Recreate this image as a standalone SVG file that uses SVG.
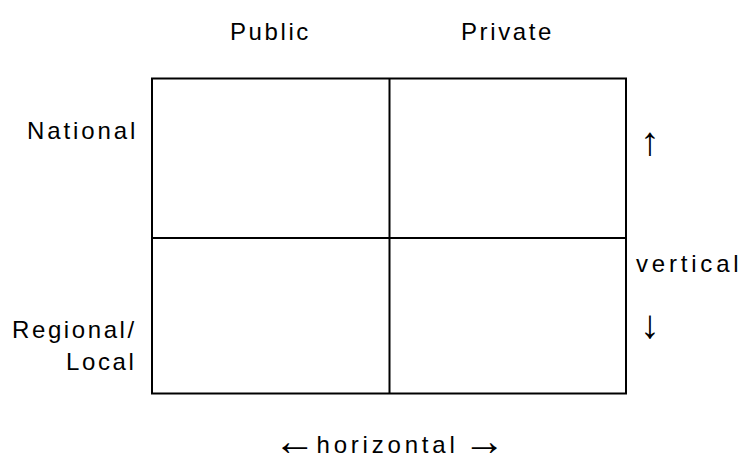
<svg xmlns="http://www.w3.org/2000/svg" width="747" height="457" viewBox="0 0 747 457">
<style>
.t{font-family:"Liberation Sans",Arial,sans-serif;font-size:24px;fill:#000;letter-spacing:2.6px}
.a{font-family:"Liberation Sans",Arial,sans-serif;font-size:24px;fill:#000;letter-spacing:3.8px}
.ar{font-family:"Liberation Sans",Arial,sans-serif;font-size:40px;fill:#000}
.g{fill:none;stroke:#000;stroke-width:2}
</style>
<rect width="747" height="457" fill="#fff"/>
<g id="grid">
<rect class="g" x="152" y="78.5" width="474" height="315"/>
<line class="g" x1="389.5" y1="78.5" x2="389.5" y2="393.5"/>
<line class="g" x1="152" y1="238" x2="626" y2="238"/>
</g>
<g id="col-public"><text class="t" x="230" y="40">Public</text></g>
<g id="col-private"><text class="t" x="461" y="40">Private</text></g>
<g id="row-national"><text class="t" x="27" y="139" style="letter-spacing:2.9px">National</text></g>
<g id="row-regional"><text class="t" x="12" y="338">Regional/</text><text class="t" x="66" y="370">Local</text></g>
<g id="vertical-axis">
<text class="ar" x="650" y="155" text-anchor="middle">↑</text>
<text class="a" x="636" y="272">vertical</text>
<text class="ar" x="650" y="338" text-anchor="middle">↓</text>
</g>
<g id="horizontal-axis">
<text class="ar" x="294.5" y="455" text-anchor="middle" style="font-size:42px">←</text>
<text class="a" x="316.5" y="453">horizontal</text>
<text class="ar" x="484" y="455" text-anchor="middle" style="font-size:42px">→</text>
</g>
</svg>
